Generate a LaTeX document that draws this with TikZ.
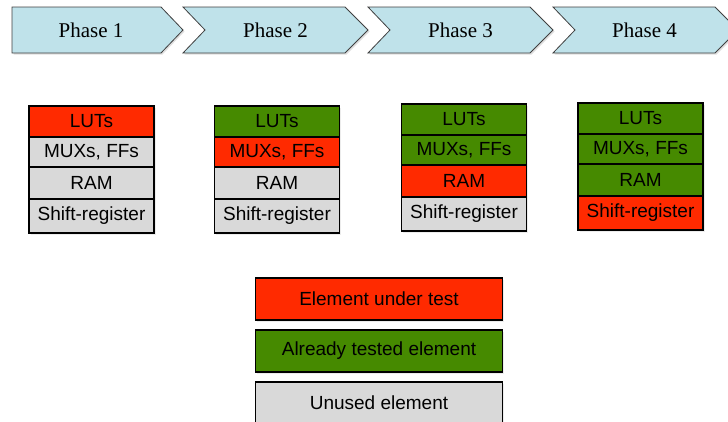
\documentclass[tikz,border=0pt]{standalone}
\usepackage{fontspec}
\newfontfamily\arial{Liberation Sans}
\newfontfamily\serifrm{Liberation Serif}
\usetikzlibrary{positioning, shadows}
\definecolor{sky}{HTML}{BFE2EA}
\definecolor{tomato}{HTML}{FF2A00}
\definecolor{leaf}{HTML}{468A00}
\definecolor{fog}{HTML}{D9D9D9}
\tikzset{
	phase/.style={draw=black!75, fill=sky, line width=0.8pt,
		drop shadow={opacity=0.25, shadow xshift=1.5pt, shadow yshift=-1.5pt}},
	cell/.style={draw, line width=1.6pt, minimum width=125pt, inner sep=0pt, outer sep=0pt,
		font=\arial\fontsize{19}{19}\selectfont,
		drop shadow={opacity=0.15, shadow xshift=1.5pt, shadow yshift=-1.5pt}},
	key/.style={cell, minimum width=247pt, minimum height=42pt},
}
\begin{document}
\begin{tikzpicture}[x=1pt, y=-1pt]
	\useasboundingbox (0,0) rectangle (728,421);
	% phase arrows
	\draw[phase] (12,7) -- (161,7) -- (183,30) -- (161,53) -- (12,53) -- cycle;
	\foreach \i in {2,3,4}
	\draw[phase] ({183+(\i-2)*185},7) -- ++(162,0) -- ++(23,23) -- ++(-23,23)
	-- ++(-162,0) -- ++(22,-23) -- cycle;
	\foreach \x [count=\i] in {91, 275.5, 460.5, 644.5}
	\node[font=\serifrm\fontsize{21}{21}\selectfont] (p\i) at (\x,30) {Phase \i};
	% element stacks
	\foreach \x/\top [count=\i] in {91.5/106, 277/106, 464/104, 640.5/103} {
		\foreach \t/\h [count=\j, remember=\j as \k (initially 0)] in
		{LUTs/31, {MUXs, FFs}/30, RAM/32, Shift-register/34} {
			\ifnum\j<\i \def\c{leaf}\else\ifnum\j=\i \def\c{tomato}\else\def\c{fog}\fi\fi
			\ifnum\j=1
			\node[cell, fill=\c, minimum height=\h, anchor=north] (c\i\j) at (\x,\top) {\t};
			\else
			\node[cell, fill=\c, minimum height=\h, below=0pt of c\i\k] (c\i\j) {\t};
			\fi
		}
	}
	% legend
	\node[key, fill=tomato] (k1) at (379,299) {Element under test};
	\node[key, fill=leaf, below=10pt of k1] (k2) {Already tested element};
	\node[key, fill=fog, below=10pt of k2] (k3) {Unused element};
\end{tikzpicture}
\end{document}
